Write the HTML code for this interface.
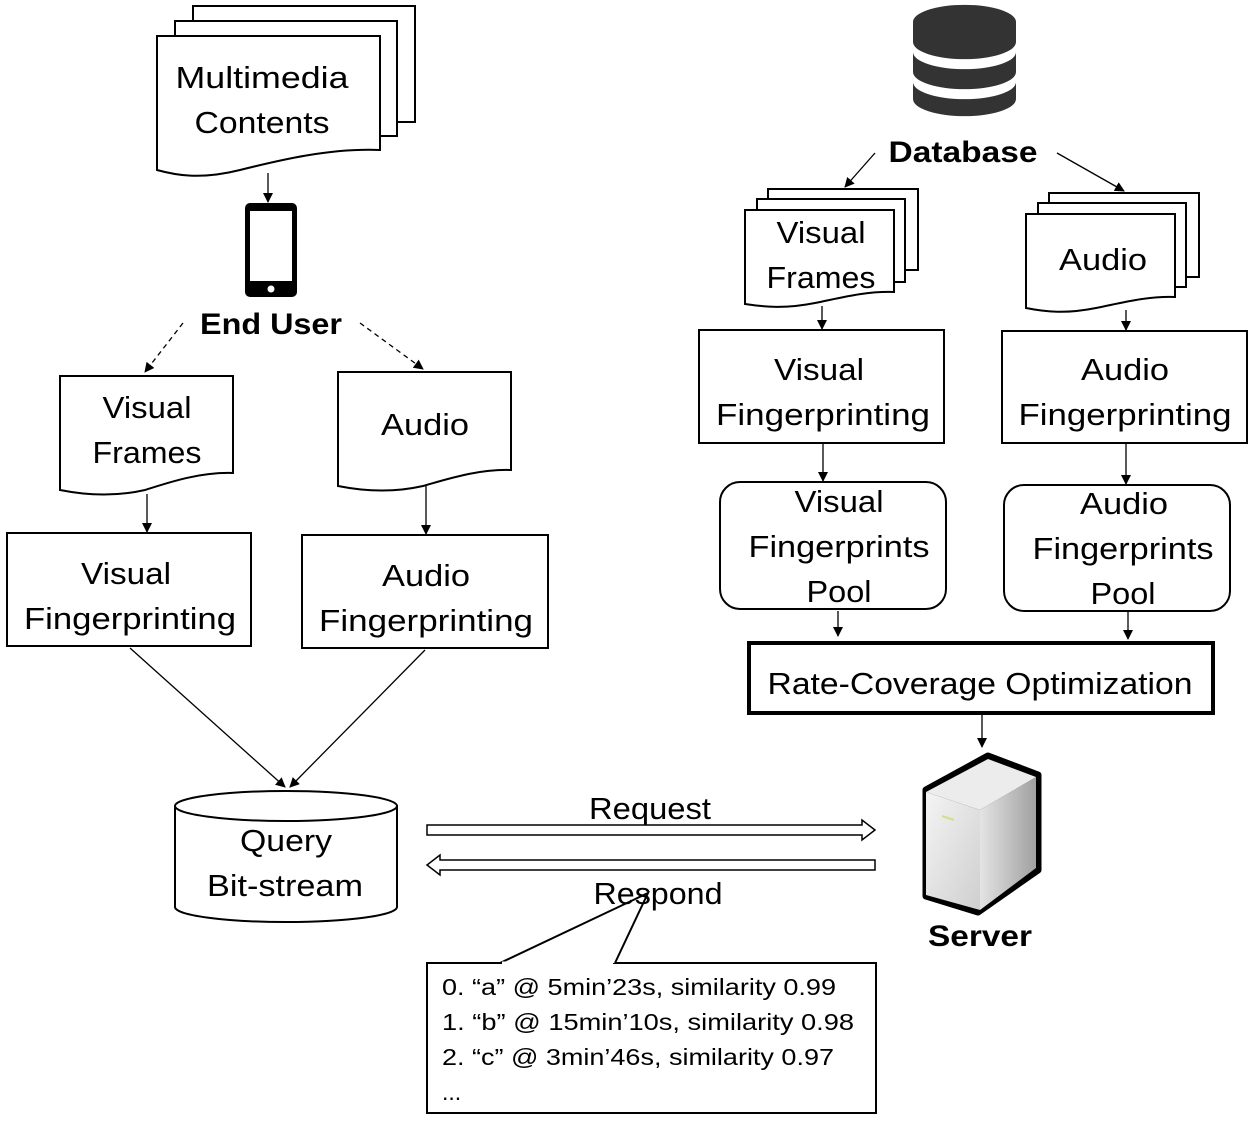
<!DOCTYPE html>
<html><head><meta charset="utf-8"><style>
html,body{margin:0;padding:0;background:#fff}
svg{display:block}
text{font-family:"Liberation Sans",sans-serif;fill:#000}
.t{font-size:31px;text-anchor:middle}
.b{font-size:30px;font-weight:bold;text-anchor:middle}
.s{font-size:23px}
</style></head><body>
<svg width="1255" height="1127" viewBox="0 0 1255 1127" xmlns="http://www.w3.org/2000/svg">
<defs>
<marker id="a" markerWidth="10" markerHeight="10" refX="9" refY="5" orient="auto" markerUnits="userSpaceOnUse"><path d="M0,0 L10,5 L0,10 z" fill="#000"/></marker>
<linearGradient id="g1" x1="0" y1="0" x2="1" y2="1"><stop offset="0" stop-color="#f4f4f4"/><stop offset="1" stop-color="#cfcfcf"/></linearGradient>
<linearGradient id="g2" x1="0" y1="0" x2="1" y2="0"><stop offset="0" stop-color="#e4e4e4"/><stop offset="1" stop-color="#a0a0a0"/></linearGradient>
</defs>
<g fill="#fff" stroke="#000" stroke-width="2">
<path d="M193,6 H415 V122 H397 V21 H193 Z"/>
<path d="M175,21 H397 V136 H380 V36 H175 Z"/>
<path d="M157,36 H380 V150 C330,148 280,160 240,170 C200,180 175,175 157,170 Z"/>
<path d="M60,376 H233 V473 C200,472 170,482 145,490 C110,498 80,494 60,490 Z"/>
<path d="M338,372 H511 V470 C478,469 448,479 423,486 C388,494 358,490 338,486 Z"/>
<rect x="7" y="533" width="244" height="113"/>
<rect x="302" y="535" width="246" height="113"/>
<path d="M175,806 V907 A111,15 0 0 0 397,907 V806"/>
<ellipse cx="286" cy="806" rx="111" ry="15"/>
<path d="M768,189 H918 V270 H905 V199 H768 Z"/>
<path d="M757,199 H905 V282 H894 V210 H757 Z"/>
<path d="M745,210 H894 V292 C865,291 840,298 815,303 C785,309 765,307 745,304 Z"/>
<path d="M1049,193 H1199 V277 H1186 V203 H1049 Z"/>
<path d="M1038,203 H1186 V287 H1175 V214 H1038 Z"/>
<path d="M1026,214 H1175 V297 C1146,296 1121,303 1096,308 C1066,314 1046,312 1026,308 Z"/>
<rect x="699" y="330" width="245" height="113"/>
<rect x="1002" y="331" width="245" height="112"/>
<rect x="720" y="482" width="226" height="127" rx="20"/>
<rect x="1004" y="485" width="226" height="126" rx="20"/>
<rect x="749" y="643" width="464" height="70" stroke-width="4"/>
<rect x="427" y="963" width="449" height="150"/>
</g>
<path d="M500,963 L648,893 L615,963" fill="#fff" stroke="#000" stroke-width="2"/>
<line x1="502" y1="963" x2="613" y2="963" stroke="#fff" stroke-width="3"/>
<rect x="245" y="203" width="52" height="94" rx="5" fill="#000"/>
<rect x="250" y="211" width="42" height="70" fill="#fff"/>
<circle cx="271" cy="289" r="3.5" fill="#fff"/>
<g fill="#333">
<path d="M913,22 A51,17 0 0 1 1016,22 V42 A51,17 0 0 1 913,42 Z"/>
<path d="M913,52 A51,17 0 0 0 1016,52 V72 A51,17 0 0 1 913,72 Z"/>
<path d="M913,82 A51,17 0 0 0 1016,82 V99 A51,17 0 0 1 913,99 Z"/>
</g>
<path d="M926,790 L988,756 L1038,775 L1038,870 L978,912 L926,896 Z" fill="#000" stroke="#000" stroke-width="7" stroke-linejoin="round"/>
<path d="M926,792 L980,810 L980,910 L926,895 Z" fill="url(#g1)"/>
<path d="M980,810 L1036,777 L1036,868 L980,910 Z" fill="url(#g2)"/>
<path d="M926,792 L988,759 L1036,777 L980,810 Z" fill="#ececec"/>
<line x1="942" y1="816" x2="954" y2="820" stroke="#cfe08a" stroke-width="2"/>
<g stroke="#000" stroke-width="1.3" fill="none" marker-end="url(#a)">
<line x1="268" y1="173" x2="268" y2="202"/>
<line x1="183" y1="323" x2="145" y2="372" stroke-dasharray="5,4"/>
<line x1="360" y1="323" x2="423" y2="369" stroke-dasharray="5,4"/>
<line x1="147" y1="494" x2="147" y2="532"/>
<line x1="426" y1="486" x2="426" y2="534"/>
<line x1="130" y1="648" x2="285" y2="787"/>
<line x1="425" y1="650" x2="290" y2="787"/>
<line x1="875" y1="153" x2="845" y2="187"/>
<line x1="1057" y1="153" x2="1124" y2="191"/>
<line x1="822" y1="306" x2="822" y2="329"/>
<line x1="1126" y1="310" x2="1126" y2="330"/>
<line x1="823" y1="443" x2="823" y2="481"/>
<line x1="1126" y1="443" x2="1126" y2="484"/>
<line x1="838" y1="611" x2="838" y2="636"/>
<line x1="1128" y1="611" x2="1128" y2="639"/>
<line x1="982" y1="714" x2="982" y2="747"/>
</g>
<path d="M427,825 H862 V820 L875,830 L862,840 V835 H427 Z" fill="#fff" stroke="#000" stroke-width="1.5"/>
<path d="M875,860 H440 V855 L427,865 L440,875 V870 H875 Z" fill="#fff" stroke="#000" stroke-width="1.5"/>
<g lengthAdjust="spacingAndGlyphs">
<text class="t" x="262" y="88" textLength="173" lengthAdjust="spacingAndGlyphs">Multimedia</text>
<text class="t" x="262" y="133" textLength="135" lengthAdjust="spacingAndGlyphs">Contents</text>
<text class="b" x="271" y="334" textLength="142" lengthAdjust="spacingAndGlyphs">End User</text>
<text class="t" x="147" y="418" textLength="89" lengthAdjust="spacingAndGlyphs">Visual</text>
<text class="t" x="147" y="463" textLength="109" lengthAdjust="spacingAndGlyphs">Frames</text>
<text class="t" x="425" y="435" textLength="88" lengthAdjust="spacingAndGlyphs">Audio</text>
<text class="t" x="126" y="584" textLength="90" lengthAdjust="spacingAndGlyphs">Visual</text>
<text class="t" x="130" y="629" textLength="212" lengthAdjust="spacingAndGlyphs">Fingerprinting</text>
<text class="t" x="426" y="586" textLength="88" lengthAdjust="spacingAndGlyphs">Audio</text>
<text class="t" x="426" y="631" textLength="214" lengthAdjust="spacingAndGlyphs">Fingerprinting</text>
<text class="t" x="286" y="851" textLength="92" lengthAdjust="spacingAndGlyphs">Query</text>
<text class="t" x="285" y="896" textLength="156" lengthAdjust="spacingAndGlyphs">Bit-stream</text>
<text class="t" x="650" y="819" textLength="122" lengthAdjust="spacingAndGlyphs">Request</text>
<text class="t" x="658" y="904" textLength="129" lengthAdjust="spacingAndGlyphs">Respond</text>
<text class="s" x="442" y="995" textLength="394" lengthAdjust="spacingAndGlyphs">0. “a” @ 5min’23s, similarity 0.99</text>
<text class="s" x="442" y="1030" textLength="412" lengthAdjust="spacingAndGlyphs">1. “b” @ 15min’10s, similarity 0.98</text>
<text class="s" x="442" y="1065" textLength="392" lengthAdjust="spacingAndGlyphs">2. “c” @ 3min’46s, similarity 0.97</text>
<text class="s" x="442" y="1100">...</text>
<text class="b" x="963" y="162" textLength="149" lengthAdjust="spacingAndGlyphs">Database</text>
<text class="t" x="821" y="243" textLength="89" lengthAdjust="spacingAndGlyphs">Visual</text>
<text class="t" x="821" y="288" textLength="109" lengthAdjust="spacingAndGlyphs">Frames</text>
<text class="t" x="1103" y="270" textLength="88" lengthAdjust="spacingAndGlyphs">Audio</text>
<text class="t" x="819" y="380" textLength="90" lengthAdjust="spacingAndGlyphs">Visual</text>
<text class="t" x="823" y="425" textLength="214" lengthAdjust="spacingAndGlyphs">Fingerprinting</text>
<text class="t" x="1125" y="380" textLength="88" lengthAdjust="spacingAndGlyphs">Audio</text>
<text class="t" x="1125" y="425" textLength="213" lengthAdjust="spacingAndGlyphs">Fingerprinting</text>
<text class="t" x="839" y="512" textLength="89" lengthAdjust="spacingAndGlyphs">Visual</text>
<text class="t" x="839" y="557" textLength="181" lengthAdjust="spacingAndGlyphs">Fingerprints</text>
<text class="t" x="839" y="602" textLength="65" lengthAdjust="spacingAndGlyphs">Pool</text>
<text class="t" x="1124" y="514" textLength="88" lengthAdjust="spacingAndGlyphs">Audio</text>
<text class="t" x="1123" y="559" textLength="181" lengthAdjust="spacingAndGlyphs">Fingerprints</text>
<text class="t" x="1123" y="604" textLength="65" lengthAdjust="spacingAndGlyphs">Pool</text>
<text class="t" x="980" y="694" textLength="425" lengthAdjust="spacingAndGlyphs">Rate-Coverage Optimization</text>
<text class="b" x="980" y="946" textLength="104" lengthAdjust="spacingAndGlyphs">Server</text>
</g>
</svg>
</body></html>
